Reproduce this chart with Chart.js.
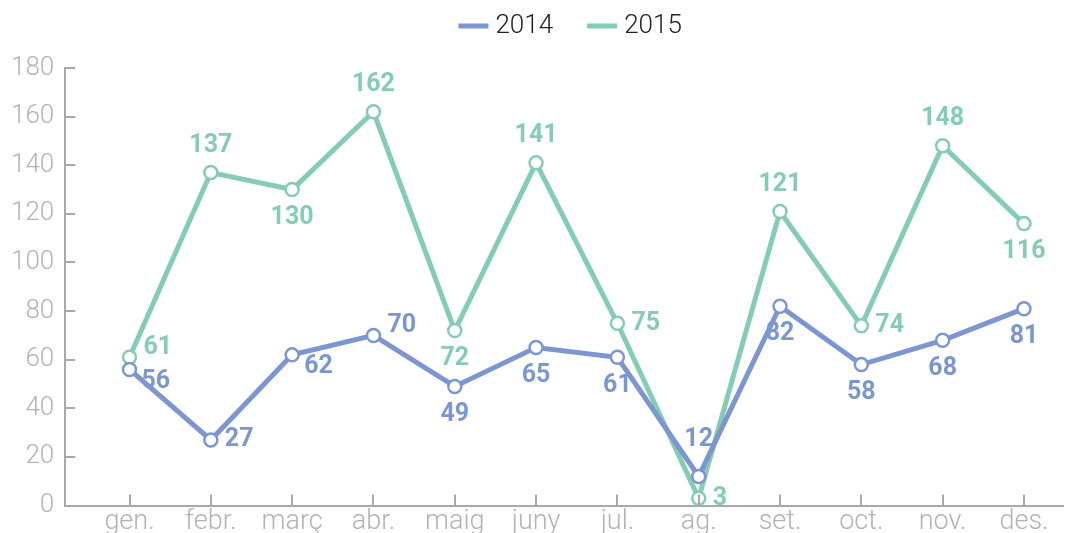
<!DOCTYPE html>
<html>
<head>
<meta charset="utf-8">
<script src="https://cdn.jsdelivr.net/npm/chart.js@4"></script>
<style>
  html, body { margin: 0; padding: 0; background: #fff; overflow: hidden; }
  #wrap { width: 1072px; height: 538px; position: relative; }
</style>
</head>
<body>
<div id="wrap"><canvas id="grafic"></canvas></div>
<script>
const mesos = ["gen.", "febr.", "març", "abr.", "maig", "juny", "jul.", "ag.", "set.", "oct.", "nov.", "des."];
const valors2014 = [56, 27, 62, 70, 49, 65, 61, 12, 82, 58, 68, 81];
const valors2015 = [61, 137, 130, 162, 72, 141, 75, 3, 121, 74, 148, 116];
const ticksY = [0, 20, 40, 60, 80, 100, 120, 140, 160, 180];

// on va cada etiqueta respecte del seu punt
const llocs2014 = ["se", "right", "se", "ne", "below", "below", "below", "high", "below", "below", "below", "below"];
const llocs2015 = ["ne", "above", "below", "above", "below", "above", "right", "right", "above", "right", "above", "below"];

const blau = "#7b96d0";
const verd = "#84cdb4";
const gris = "#a9a9a9";

const etiquetes = {
  id: 'etiquetes',
  afterDatasetsDraw(chart) {
    const ctx = chart.ctx;
    ctx.save();
    ctx.font = "bold 25px Roboto";
    ctx.textBaseline = "middle";
    chart.data.datasets.forEach((ds, di) => {
      const meta = chart.getDatasetMeta(di);
      meta.data.forEach((pt, i) => {
        const lloc = ds.llocs[i];
        let x = pt.x, y = pt.y;
        ctx.fillStyle = ds.borderColor;
        ctx.textAlign = "center";
        if (lloc === "above") { y -= 27; }
        else if (lloc === "high") { y -= 37; }
        else if (lloc === "below") { y += 28; }
        else if (lloc === "right") { ctx.textAlign = "left"; x += 14; }
        else if (lloc === "ne") { ctx.textAlign = "left"; x += 14; y -= 10; }
        else if (lloc === "se") { ctx.textAlign = "left"; x += 12; y += 12; }
        ctx.fillText(String(ds.data[i].y), x, y);
      });
    });
    ctx.restore();
  }
};

// marques petites cap a dins dels eixos
const marques = {
  id: 'marques',
  afterDraw(chart) {
    const ctx = chart.ctx;
    const a = chart.chartArea;
    ctx.save();
    ctx.strokeStyle = gris;
    ctx.lineWidth = 2;
    chart.scales.y.ticks.forEach(t => {
      const y = Math.round(chart.scales.y.getPixelForValue(t.value));
      ctx.beginPath();
      ctx.moveTo(a.left, y);
      ctx.lineTo(a.left + 10, y);
      ctx.stroke();
    });
    chart.scales.x.ticks.forEach(t => {
      const x = Math.round(chart.scales.x.getPixelForValue(t.value));
      ctx.beginPath();
      ctx.moveTo(x, a.bottom);
      ctx.lineTo(x, a.bottom - 11);
      ctx.stroke();
    });
    ctx.restore();
  }
};

// llegenda: traç curt + any, sobre l'àrea del gràfic
const llegenda = {
  id: 'llegenda',
  afterDraw(chart) {
    const ctx = chart.ctx;
    const a = chart.chartArea;
    const sets = chart.data.datasets;
    ctx.save();
    ctx.font = "300 26px Roboto";
    ctx.textBaseline = "middle";
    ctx.textAlign = "left";
    const amples = sets.map(ds => 30 + 7 + ctx.measureText(ds.label).width);
    const total = amples.reduce((s, w) => s + w, 0) + 34 * (sets.length - 1);
    let x = (a.left + a.right) / 2 + 6 - total / 2;
    const y = 26;
    sets.forEach((ds, i) => {
      ctx.fillStyle = ds.borderColor;
      ctx.fillRect(x, y - 2.5, 30, 5);
      ctx.fillStyle = "#222";
      ctx.fillText(ds.label, x + 37, y);
      x += amples[i] + 34;
    });
    ctx.restore();
  }
};

const serie = (nom, valors, color, llocs) => ({
  label: nom,
  data: valors.map((v, i) => ({ x: i, y: v })),
  llocs: llocs,
  borderColor: color,
  backgroundColor: "#fff",
  borderWidth: 5,
  pointRadius: 6.5,
  pointBorderWidth: 2.5,
  pointBackgroundColor: "#fff",
  pointBorderColor: color,
  pointHoverRadius: 6.5,
  tension: 0
});

new Chart(document.getElementById('grafic'), {
  type: 'line',
  data: {
    datasets: [
      serie("2014", valors2014, blau, llocs2014),
      serie("2015", valors2015, verd, llocs2015)
    ]
  },
  plugins: [etiquetes, marques, llegenda],
  options: {
    responsive: true,
    maintainAspectRatio: false,
    animation: false,
    events: [],
    layout: { padding: { left: 0, right: 0, top: 68, bottom: 0 } },
    plugins: {
      tooltip: { enabled: false },
      legend: { display: false }
    },
    scales: {
      x: {
        type: 'linear',
        min: -0.79,
        max: 11.48,
        afterBuildTicks: (scale) => { scale.ticks = mesos.map((m, i) => ({ value: i })); },
        ticks: {
          callback: (v) => mesos[v],
          font: { family: "Roboto", size: 27, weight: 300 },
          color: "#b3b3b3",
          padding: 0,
          autoSkip: false,
          maxRotation: 0
        },
        grid: { drawOnChartArea: false, drawTicks: false },
        border: { color: gris, width: 2 }
      },
      y: {
        min: 0,
        max: 180,
        afterBuildTicks: (scale) => { scale.ticks = ticksY.map(v => ({ value: v })); },
        ticks: {
          font: { family: "Roboto", size: 26, weight: 300 },
          color: "#b3b3b3",
          padding: 11
        },
        grid: { drawOnChartArea: false, drawTicks: false },
        border: { color: gris, width: 2 }
      }
    }
  }
});
</script>
</body>
</html>
